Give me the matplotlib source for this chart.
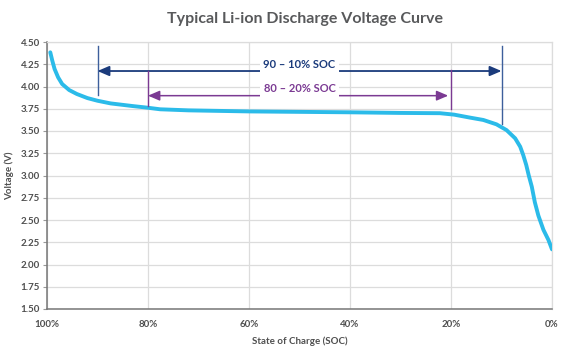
import matplotlib
matplotlib.use("Agg")
import matplotlib.pyplot as plt

# ---- data ----
soc = [99.35, 98.95, 98.5, 97.8, 97.0, 95.6, 94.1, 92.0, 90.0, 87.4, 83.0, 80.1, 77.6, 72, 66, 60,
       50, 40, 30, 22.2, 19.4, 16.2, 13.6, 11.0, 9.0, 7.3, 6.3, 5.7, 5.1, 4.6, 4.0, 3.4, 2.7,
       1.7, 0.7, 0.0]
voltage = [4.384, 4.29, 4.197, 4.103, 4.028, 3.96, 3.916, 3.87, 3.84, 3.81, 3.78, 3.762, 3.744,
           3.732, 3.726, 3.72, 3.715, 3.71, 3.703, 3.70, 3.684, 3.65, 3.624, 3.575, 3.51, 3.418,
           3.324, 3.23, 3.118, 3.0, 2.874, 2.70, 2.55, 2.39, 2.275, 2.17]

x_ticks = [100, 80, 60, 40, 20, 0]
x_tick_labels = ["100%", "80%", "60%", "40%", "20%", "0%"]
y_ticks = [1.50, 1.75, 2.00, 2.25, 2.50, 2.75, 3.00, 3.25, 3.50, 3.75, 4.00, 4.25, 4.50]

range_90_10 = (90, 10)
range_80_20 = (80, 20)
label_90_10 = "90 – 10% SOC"
label_80_20 = "80 – 20% SOC"

title = "Typical Li-ion Discharge Voltage Curve"
xlabel = "State of Charge (SOC)"
ylabel = "Voltage (V)"

# ---- styling ----
FONT = ["Lato", "DejaVu Sans"]
plt.rcParams["font.family"] = FONT
curve_color = "#2bbbe9"
blue_line = "#3d5f9c"
blue_head = "#1b3b7c"
purple = "#7b3a93"
text_gray = "#4f4f4f"

fig = plt.figure(figsize=(5.76, 3.55), dpi=100)
ax = fig.add_axes([47 / 576, 1 - 309 / 355, 505 / 576, 267 / 355])

ax.set_xlim(100, 0)
ax.set_ylim(1.5, 4.5)
ax.set_xticks(x_ticks)
ax.set_xticklabels(x_tick_labels)
ax.set_yticks(y_ticks)
ax.set_yticklabels([f"{v:.2f}" for v in y_ticks])

ax.grid(True, color="#dcdcdc", linewidth=0.9)
ax.set_axisbelow(True)
for s in ["top", "right"]:
    ax.spines[s].set_color("#dcdcdc")
    ax.spines[s].set_linewidth(0.9)
for s in ["left", "bottom"]:
    ax.spines[s].set_color("#777777")
    ax.spines[s].set_linewidth(1.1)

ax.tick_params(axis="y", length=3, width=0.8, color="#999999", pad=2,
               labelsize=7, labelcolor=text_gray)
ax.tick_params(axis="x", length=0, pad=8, labelsize=7, labelcolor=text_gray)
for lab in ax.get_xticklabels() + ax.get_yticklabels():
    lab.set_fontweight("bold")

ax.plot(soc, voltage, color=curve_color, linewidth=2.8, solid_capstyle="round",
        solid_joinstyle="round", zorder=3)

# 90-10 annotation
a, b = range_90_10
ax.plot([a, a], [3.90, 4.455], color=blue_line, linewidth=1.0, zorder=4)
ax.plot([b, b], [3.58, 4.455], color=blue_line, linewidth=1.0, zorder=4)
ax.annotate("", xy=(a, 4.174), xytext=(b, 4.174),
            arrowprops=dict(arrowstyle="<|-|>,head_length=0.7,head_width=0.3",
                            color=blue_head, linewidth=1.3, shrinkA=0, shrinkB=0), zorder=4)
ax.text(50, 4.25, label_90_10, ha="center", va="center", fontsize=8, fontweight="bold",
        color=blue_head, bbox=dict(facecolor="white", edgecolor="none", pad=2.5), zorder=5)

# 80-20 annotation
a, b = range_80_20
ax.plot([a, a], [3.784, 4.174], color=purple, linewidth=1.0, zorder=4)
ax.plot([b, b], [3.747, 4.18], color=purple, linewidth=1.0, zorder=4)
ax.annotate("", xy=(a, 3.897), xytext=(b, 3.897),
            arrowprops=dict(arrowstyle="<|-|>,head_length=0.7,head_width=0.3",
                            color=purple, linewidth=1.1, shrinkA=2, shrinkB=0), zorder=4)
ax.text(50, 3.98, label_80_20, ha="center", va="center", fontsize=8, fontweight="bold",
        color=purple, bbox=dict(facecolor="white", edgecolor="none", pad=2.5), zorder=5)

ax.set_xlabel(xlabel, fontsize=7, fontweight="bold", color=text_gray, labelpad=5)
ax.set_ylabel(ylabel, fontsize=7, fontweight="bold", color=text_gray, labelpad=5)

fig.text(305 / 576, 1 - 19 / 355, title, ha="center", va="center", fontsize=11.5,
         fontweight="bold", color="#58595b")

fig.savefig("out.png", dpi=100)
